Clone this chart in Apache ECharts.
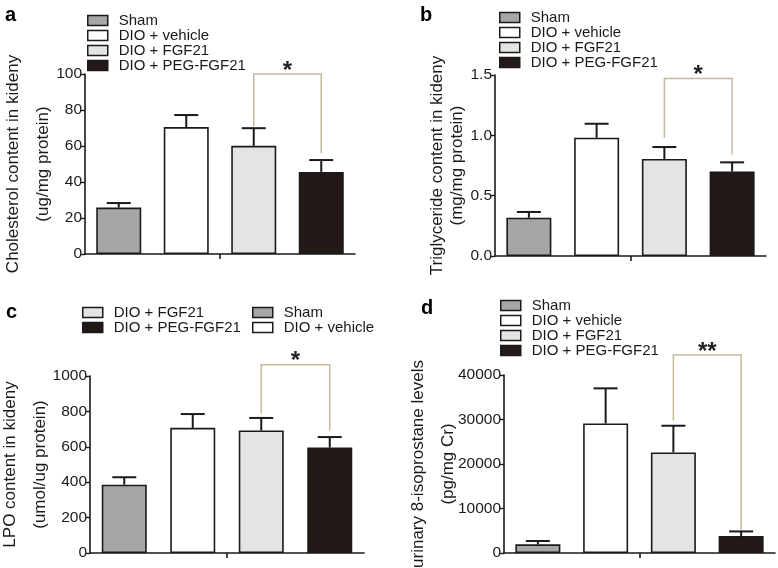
<!DOCTYPE html>
<html><head><meta charset="utf-8">
<script src="https://cdn.jsdelivr.net/npm/echarts@6/dist/echarts.min.js"></script>
<style>html,body{margin:0;padding:0;background:#fff}#c{width:778px;height:568px}</style>
</head><body><div id="c"></div>
<script>
// ---------- data ----------
const groups = ['Sham', 'DIO + vehicle', 'DIO + FGF21', 'DIO + PEG-FGF21'];

const cholMean = [25.8, 70.5, 60.1, 45.6];
const cholSem  = [2.5, 6.7, 9.8, 6.6];
const cholTicks = [0, 20, 40, 60, 80, 100];
const cholBracket = [100, 71, 56];      // level, left foot, right foot
const cholStars = '*';

const trigMean = [0.317, 0.98, 0.804, 0.70];
const trigSem  = [0.048, 0.116, 0.099, 0.076];
const trigTicks = [0.0, 0.5, 1.0, 1.5];
const trigBracket = [1.47, 0.98, 0.84];
const trigStars = '*';

const lpoMean = [386, 707, 692, 596];
const lpoSem  = [42, 78, 71, 59];
const lpoTicks = [0, 200, 400, 600, 800, 1000];
const lpoBracket = [1063, 789, 691];
const lpoStars = '*';

const isoMean = [1950, 29100, 22600, 3800];
const isoSem  = [750, 7900, 6000, 1050];
const isoTicks = [0, 10000, 20000, 30000, 40000];
const isoBracket = [44500, 29700, 5200];
const isoStars = '**';

// ---------- styles / layout ----------
const FONT = '"Liberation Sans", Arial, sans-serif';
const colors = ['#a6a6a6', '#ffffff', '#e4e4e4', '#231916'];
const INK = '#1a1a1a';

const panels = [
  {label: 'a', mean: cholMean, sem: cholSem, ticks: cholTicks, br: cholBracket, stars: cholStars,
   name: 'Cholesterol content in kideny\n(ug/mg protein)', dec: 0,
   grid: {left: 85, top: 74, width: 270, height: 180}, nameGap: 27, nameLH: 30,
   lab: {left: 0, top: 0}},
  {label: 'b', mean: trigMean, sem: trigSem, ticks: trigTicks, br: trigBracket, stars: trigStars,
   name: 'Triglyceride content in kideny\n(mg/mg protein)', dec: 1,
   grid: {left: 495, top: 75, width: 271, height: 181}, nameGap: 28, nameLH: 20,
   lab: {left: 415, top: 0}},
  {label: 'c', mean: lpoMean, sem: lpoSem, ticks: lpoTicks, br: lpoBracket, stars: lpoStars,
   name: 'LPO content in kideny\n(umol/ug protein)', dec: 0,
   grid: {left: 90, top: 376, width: 274, height: 177}, nameGap: 35, nameLH: 30,
   lab: {left: 1, top: 297}},
  {label: 'd', mean: isoMean, sem: isoSem, ticks: isoTicks, br: isoBracket, stars: isoStars,
   name: 'urinary 8-isoprostane levels\n(pg/mg Cr)', dec: 0,
   grid: {left: 504, top: 375, width: 271, height: 178}, nameGap: 41, nameLH: 30,
   lab: {left: 416, top: 293}}
];

const legends = [
  {names: groups, left: 82, top: 8, lh: 14},
  {names: groups, left: 494, top: 5, lh: 15},
  {names: ['DIO + FGF21', 'DIO + PEG-FGF21'], left: 77, top: 300, lh: 16},
  {names: ['Sham', 'DIO + vehicle'], left: 247, top: 300, lh: 16},
  {names: groups, left: 495, top: 293, lh: 14}
];

// ---------- build ----------
const option = {
  animation: false,
  backgroundColor: '#fff',
  title: [], grid: [], xAxis: [], yAxis: [], series: [], legend: []
};

panels.forEach((p, k) => {
  option.title.push({text: p.label, left: p.lab.left, top: p.lab.top,
    textStyle: {fontFamily: FONT, fontSize: 20, fontWeight: 'bold', color: '#000'}});
  option.grid.push(Object.assign({containLabel: false, outerBoundsMode: 'none'}, p.grid));
  const tmin = p.ticks[0], tmax = p.ticks[p.ticks.length - 1];
  const step = p.ticks[1] - p.ticks[0];
  option.xAxis.push({
    type: 'category', gridIndex: k, data: groups, position: 'bottom',
    axisLine: {lineStyle: {color: INK, width: 1.6}},
    axisTick: {show: false}, axisLabel: {show: false}, splitLine: {show: false}
  });
  option.xAxis.push({
    type: 'category', gridIndex: k, data: [''], position: 'bottom',
    axisLine: {show: false},
    axisTick: {show: true, alignWithLabel: true, length: 5, lineStyle: {color: INK, width: 1.6}},
    axisLabel: {show: false}, splitLine: {show: false}
  });
  option.yAxis.push({
    type: 'value', gridIndex: k, min: tmin, max: tmax, interval: step,
    name: p.name, nameLocation: 'middle', nameRotate: 90, nameGap: p.nameGap,
    nameMoveOverlap: false,
    nameTextStyle: {fontFamily: FONT, fontSize: 17, lineHeight: p.nameLH, color: INK, align: 'center'},
    axisLine: {show: true, lineStyle: {color: INK, width: 1.6}},
    axisTick: {show: true, length: 4, lineStyle: {color: INK, width: 1.4}},
    axisLabel: {fontFamily: FONT, fontSize: 15.5, color: INK, margin: 3,
      formatter: v => v.toFixed(p.dec)},
    splitLine: {show: false}
  });
  const xi = k * 2;
  groups.forEach((g, i) => {
    option.series.push({
      type: 'bar', name: g, xAxisIndex: xi, yAxisIndex: k,
      barWidth: 45, barGap: '-100%',
      itemStyle: {color: colors[i], borderColor: INK, borderWidth: 1.6},
      data: groups.map((_, j) => j === i ? p.mean[i] : '-'),
      z: 2
    });
  });
  option.series.push({
    type: 'custom', xAxisIndex: xi, yAxisIndex: k, z: 3, clip: false, silent: true,
    data: p.mean.map((m, i) => [i, m, m + p.sem[i]]),
    encode: {x: 0, y: [1, 2]},
    renderItem: (params, api) => {
      const x = api.value(0);
      const p0 = api.coord([x, api.value(1)]), p1 = api.coord([x, api.value(2)]);
      const cap = 12;
      return {type: 'group', children: [
        {type: 'line', shape: {x1: p0[0], y1: p0[1], x2: p1[0], y2: p1[1]}, style: {stroke: INK, lineWidth: 2}},
        {type: 'line', shape: {x1: p1[0] - cap, y1: p1[1], x2: p1[0] + cap, y2: p1[1]}, style: {stroke: INK, lineWidth: 2}}
      ]};
    }
  });
  option.series.push({
    type: 'custom', xAxisIndex: xi, yAxisIndex: k, z: 4, clip: false, silent: true,
    data: [[2, 3, p.br[0], p.br[1], p.br[2]]],
    encode: {x: [0, 1], y: [2, 3, 4]},
    renderItem: (params, api) => {
      const a = api.value(0), b = api.value(1);
      const pL = api.coord([a, api.value(2)]), pR = api.coord([b, api.value(2)]);
      const fL = api.coord([a, api.value(3)]), fR = api.coord([b, api.value(4)]);
      return {type: 'group', children: [
        {type: 'polyline', shape: {points: [fL, pL, pR, fR]},
         style: {stroke: '#c6b99a', lineWidth: 1.5, fill: null}},
        {type: 'text', style: {text: p.stars, x: (pL[0] + pR[0]) / 2, y: pL[1] + 9,
          align: 'center', verticalAlign: 'bottom', font: 'bold 24px ' + FONT, fill: '#222'}}
      ]};
    }
  });
});

legends.forEach(l => {
  option.legend.push({
    data: l.names, orient: 'vertical', left: l.left, top: l.top,
    itemWidth: 20, itemHeight: 10, itemGap: 0, selectedMode: false, icon: 'rect',
    itemStyle: {borderColor: INK, borderWidth: 1.5},
    formatter: '{t|{name}}',
    textStyle: {
      fontFamily: FONT, fontSize: 15, color: INK,
      rich: {t: {fontFamily: FONT, fontSize: 15, lineHeight: l.lh, color: INK, padding: [0, 0, 0, 6]}}
    }
  });
});

const chart = echarts.init(document.getElementById('c'), null, {renderer: 'canvas'});
chart.setOption(option);
</script>
</body></html>
